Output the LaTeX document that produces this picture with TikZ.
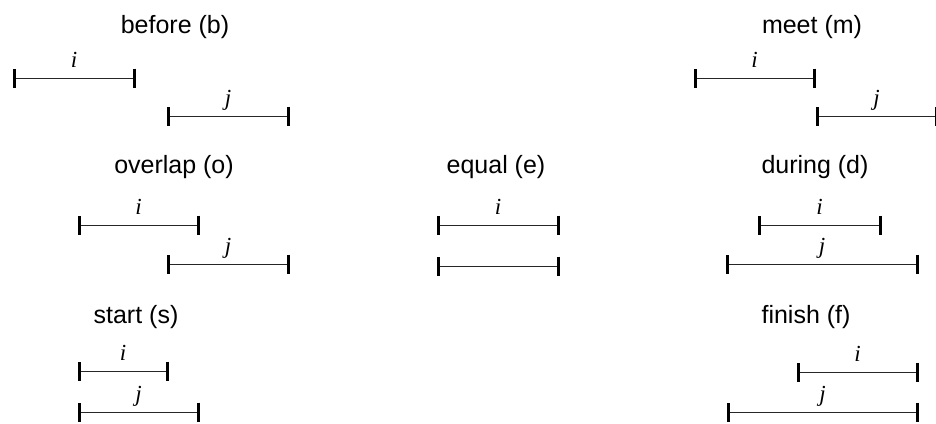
\documentclass[tikz,border=0pt]{standalone}
\usepackage{fontspec}
\setmainfont{Liberation Sans}
\newfontfamily\tmsfont{Liberation Serif}
\usetikzlibrary{arrows.meta}
\begin{document}
\begin{tikzpicture}[x=1pt,y=-1pt,
  iv/.style={line width=0.9pt,draw=black!85,shorten <=-1.5pt,shorten >=-1.5pt,
    {Bar[width=19pt,line width=3pt,black]}-{Bar[width=19pt,line width=3pt,black]}},
  ttl/.style={anchor=base,inner sep=0pt,font=\fontsize{25}{30}\selectfont},
  lab/.style={anchor=base,inner sep=0pt,yshift=11pt,font=\fontsize{23}{26}\tmsfont\itshape}]
\useasboundingbox (0,0) rectangle (936,423);
% before
\node[ttl] (tb) at (175,33) {before (b)};
\coordinate (b1) at (14,78); \coordinate (b2) at (134,78);
\coordinate (b3) at (168,116); \coordinate (b4) at (288,116);
\draw[iv] (b1) -- node[lab] (bi) {i} (b2);
\draw[iv] (b3) -- node[lab] (bj) {j} (b4);
% meet
\node[ttl] (tm) at (812,33) {meet (m)};
\coordinate (m1) at (695,78); \coordinate (m2) at (814,78);
\coordinate (m3) at (817,116); \coordinate (m4) at (936,116);
\draw[iv] (m1) -- node[lab] (mi) {i} (m2);
\draw[iv] (m3) -- node[lab] (mj) {j} (m4);
% overlap
\node[ttl] (to) at (174,173) {overlap (o)};
\coordinate (o1) at (79,225); \coordinate (o2) at (198,225);
\coordinate (o3) at (168,264); \coordinate (o4) at (288,264);
\draw[iv] (o1) -- node[lab] (oi) {i} (o2);
\draw[iv] (o3) -- node[lab] (oj) {j} (o4);
% equal
\node[ttl] (te) at (496,173) {equal (e)};
\coordinate (e1) at (438,225); \coordinate (e2) at (558,225);
\coordinate (e3) at (438,266); \coordinate (e4) at (558,266);
\draw[iv] (e1) -- node[lab] (ei) {i} (e2);
\draw[iv] (e3) -- (e4);
% during
\node[ttl] (td) at (815,173) {during (d)};
\coordinate (d1) at (759,225); \coordinate (d2) at (880,225);
\coordinate (d3) at (727,264); \coordinate (d4) at (917,264);
\draw[iv] (d1) -- node[lab] (di) {i} (d2);
\draw[iv] (d3) -- node[lab] (dj) {j} (d4);
% start
\node[ttl] (ts) at (136,323) {start (s)};
\coordinate (s1) at (79,371); \coordinate (s2) at (167,371);
\coordinate (s3) at (79,412); \coordinate (s4) at (198,412);
\draw[iv] (s1) -- node[lab] (si) {i} (s2);
\draw[iv] (s3) -- node[lab] (sj) {j} (s4);
% finish
\node[ttl] (tf) at (806,323) {finish (f)};
\coordinate (f1) at (798,372); \coordinate (f2) at (917,372);
\coordinate (f3) at (728,412); \coordinate (f4) at (917,412);
\draw[iv] (f1) -- node[lab] (fi) {i} (f2);
\draw[iv] (f3) -- node[lab] (fj) {j} (f4);
\end{tikzpicture}
\end{document}
